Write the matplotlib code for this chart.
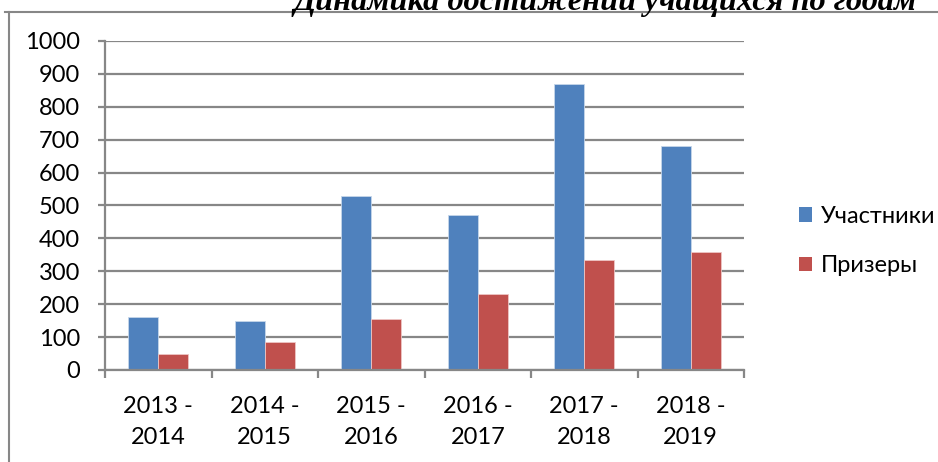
import numpy as np
import matplotlib.pyplot as plt
from matplotlib.lines import Line2D
from matplotlib.patches import Patch

years = ["2013 -\n2014", "2014 -\n2015", "2015 -\n2016", "2016 -\n2017", "2017 -\n2018", "2018 -\n2019"]
participants = [160, 148, 530, 471, 868, 682]
winners = [48, 84, 156, 230, 333, 359]
series_names = ["Участники", "Призеры"]
title = "Динамика достижений учащихся по годам"

blue = "#4F81BD"
red = "#C0504D"
grid_c = "#878787"

plt.rcParams['font.family'] = ['Lato', 'DejaVu Sans']

W, H = 938, 462
fig = plt.figure(figsize=(W / 100, H / 100), dpi=100)
ax = fig.add_axes([105 / W, 1 - 370 / H, (744 - 105) / W, (370 - 41) / H])

x = np.arange(len(years))
width = 0.28
ax.bar(x - width / 2, participants, width, color=blue, edgecolor="#c6d6ea", linewidth=0.6)
ax.bar(x + width / 2, winners, width, color=red, edgecolor="#eec6c5", linewidth=0.6)

ax.set_xlim(-0.5, len(years) - 0.5)
ax.set_ylim(0, 1000)
ax.set_yticks(np.arange(0, 1001, 100))
ax.yaxis.grid(True, color=grid_c, linewidth=1.6)
ax.set_axisbelow(True)

ax.set_xticks(x)
ax.set_xticklabels(years, fontsize=17, linespacing=1.55)
ax.set_xticks(np.arange(-0.5, len(years)), minor=True)
ax.tick_params(axis='x', which='major', length=0, pad=19)
ax.tick_params(axis='x', which='minor', length=6, width=1.6, color=grid_c, direction='out')
ax.tick_params(axis='y', length=5, width=1.6, color=grid_c, labelsize=17, pad=13)

for side in ["top", "right"]:
    ax.spines[side].set_visible(False)
for side in ["left", "bottom"]:
    ax.spines[side].set_color(grid_c)
    ax.spines[side].set_linewidth(1.6)

handles = [Patch(facecolor=blue), Patch(facecolor=red)]
fig.legend(handles, series_names, loc="center left", bbox_to_anchor=(778 / W, 1 - 241 / H),
           frameon=False, fontsize=17, handlelength=0.55, handleheight=0.55,
           handletextpad=0.35, labelspacing=1.2)

# frame lines (left and top)
fig.add_artist(Line2D([9 / W, 9 / W], [0, 1 - 12 / H], color=grid_c, linewidth=1.5))
fig.add_artist(Line2D([5 / W, 1], [1 - 12 / H, 1 - 12 / H], color=grid_c, linewidth=1.5))

# title sits partly above the top edge, as in the original
fig.text(917 / W, 1 - 10 / H, title, ha="right", va="baseline",
         fontsize=23.3, fontweight="bold", fontstyle="italic", family="Liberation Serif")

fig.savefig("out.png", dpi=100)
